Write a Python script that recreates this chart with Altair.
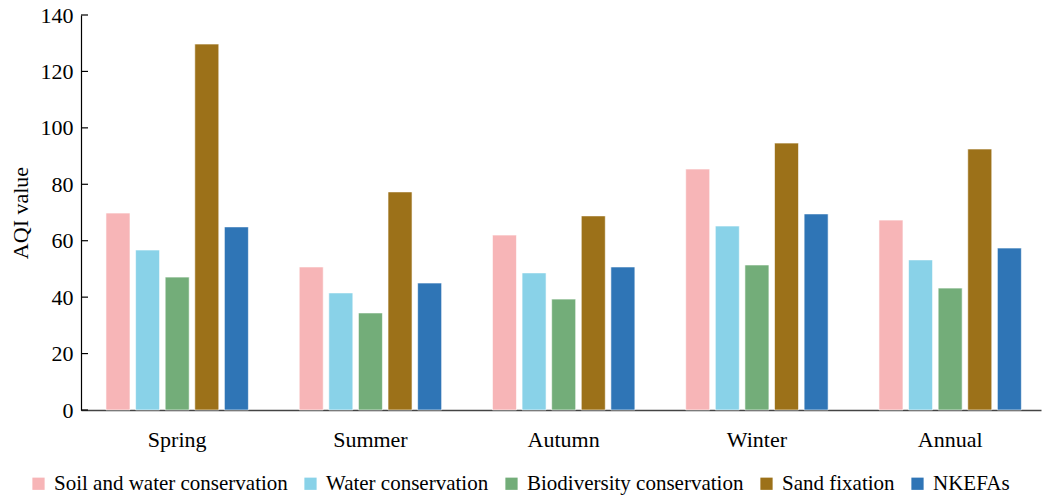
import altair as alt
import pandas as pd

seasons = ["Spring", "Summer", "Autumn", "Winter", "Annual"]
series = ["Soil and water conservation", "Water conservation", "Biodiversity conservation", "Sand fixation", "NKEFAs"]
colors = ["#F7B5B7", "#89D2E8", "#73AD79", "#9C7119", "#2F75B6"]
values = {
    "Soil and water conservation": [69.8, 50.7, 62.0, 85.4, 67.3],
    "Water conservation": [56.7, 41.5, 48.6, 65.2, 53.2],
    "Biodiversity conservation": [47.1, 34.4, 39.3, 51.4, 43.2],
    "Sand fixation": [129.7, 77.3, 68.8, 94.6, 92.5],
    "NKEFAs": [64.9, 45.0, 50.7, 69.5, 57.4],
}
y_ticks = [0, 20, 40, 60, 80, 100, 120, 140]

rows = []
for s in series:
    for season, v in zip(seasons, values[s]):
        rows.append({"season": season, "series": s, "value": v})
df = pd.DataFrame(rows)
ticks_df = pd.DataFrame({"t": y_ticks})

FONT = "Liberation Serif"

bars = alt.Chart(df).mark_bar(stroke="white", strokeWidth=0.6).encode(
    x=alt.X("season:N", sort=seasons,
            scale=alt.Scale(paddingInner=0.263, paddingOuter=0.1154, align=0.56),
            axis=alt.Axis(title=None, labelAngle=0, ticks=False, labelPadding=19,
                          labelFont=FONT, labelFontSize=22, labelColor="black",
                          domainColor="#444", domainWidth=1.5)),
    xOffset=alt.XOffset("series:N", sort=series,
                        scale=alt.Scale(paddingInner=0.189, paddingOuter=0)),
    y=alt.Y("value:Q", scale=alt.Scale(domain=[0, 140], nice=False),
            axis=alt.Axis(title="AQI value", values=y_ticks, ticks=False, grid=False,
                          labelFont=FONT, labelFontSize=22, labelColor="black", labelPadding=8,
                          titleFont=FONT, titleFontSize=22, titleFontWeight="normal",
                          titleColor="black", titlePadding=8,
                          domainColor="black", domainWidth=1.2)),
    color=alt.Color("series:N", sort=series,
                    scale=alt.Scale(domain=series, range=colors),
                    legend=alt.Legend(title=None, orient="none", direction="horizontal",
                                      columns=5, legendX=-53, legendY=458,
                                      symbolType="square", symbolSize=150,
                                      symbolStrokeWidth=0, labelFont=FONT,
                                      labelFontSize=21, labelColor="black", labelLimit=500,
                                      labelOffset=5, columnPadding=12)),
)

tick_marks = alt.Chart(ticks_df).mark_rule(color="black", strokeWidth=1.2).encode(
    y=alt.Y("t:Q"),
    x=alt.value(0),
    x2=alt.value(7),
)

chart = alt.layer(bars, tick_marks).properties(
    width=960, height=395,
    autosize=alt.AutoSizeParams(type="none"),
    padding={"left": 81, "top": 15, "right": 2, "bottom": 89},
    background="white",
).configure(font=FONT).configure_view(stroke=None).configure_legend(labelFont=FONT)

chart.save("out.html", embed_options={"renderer": "svg", "actions": False})
